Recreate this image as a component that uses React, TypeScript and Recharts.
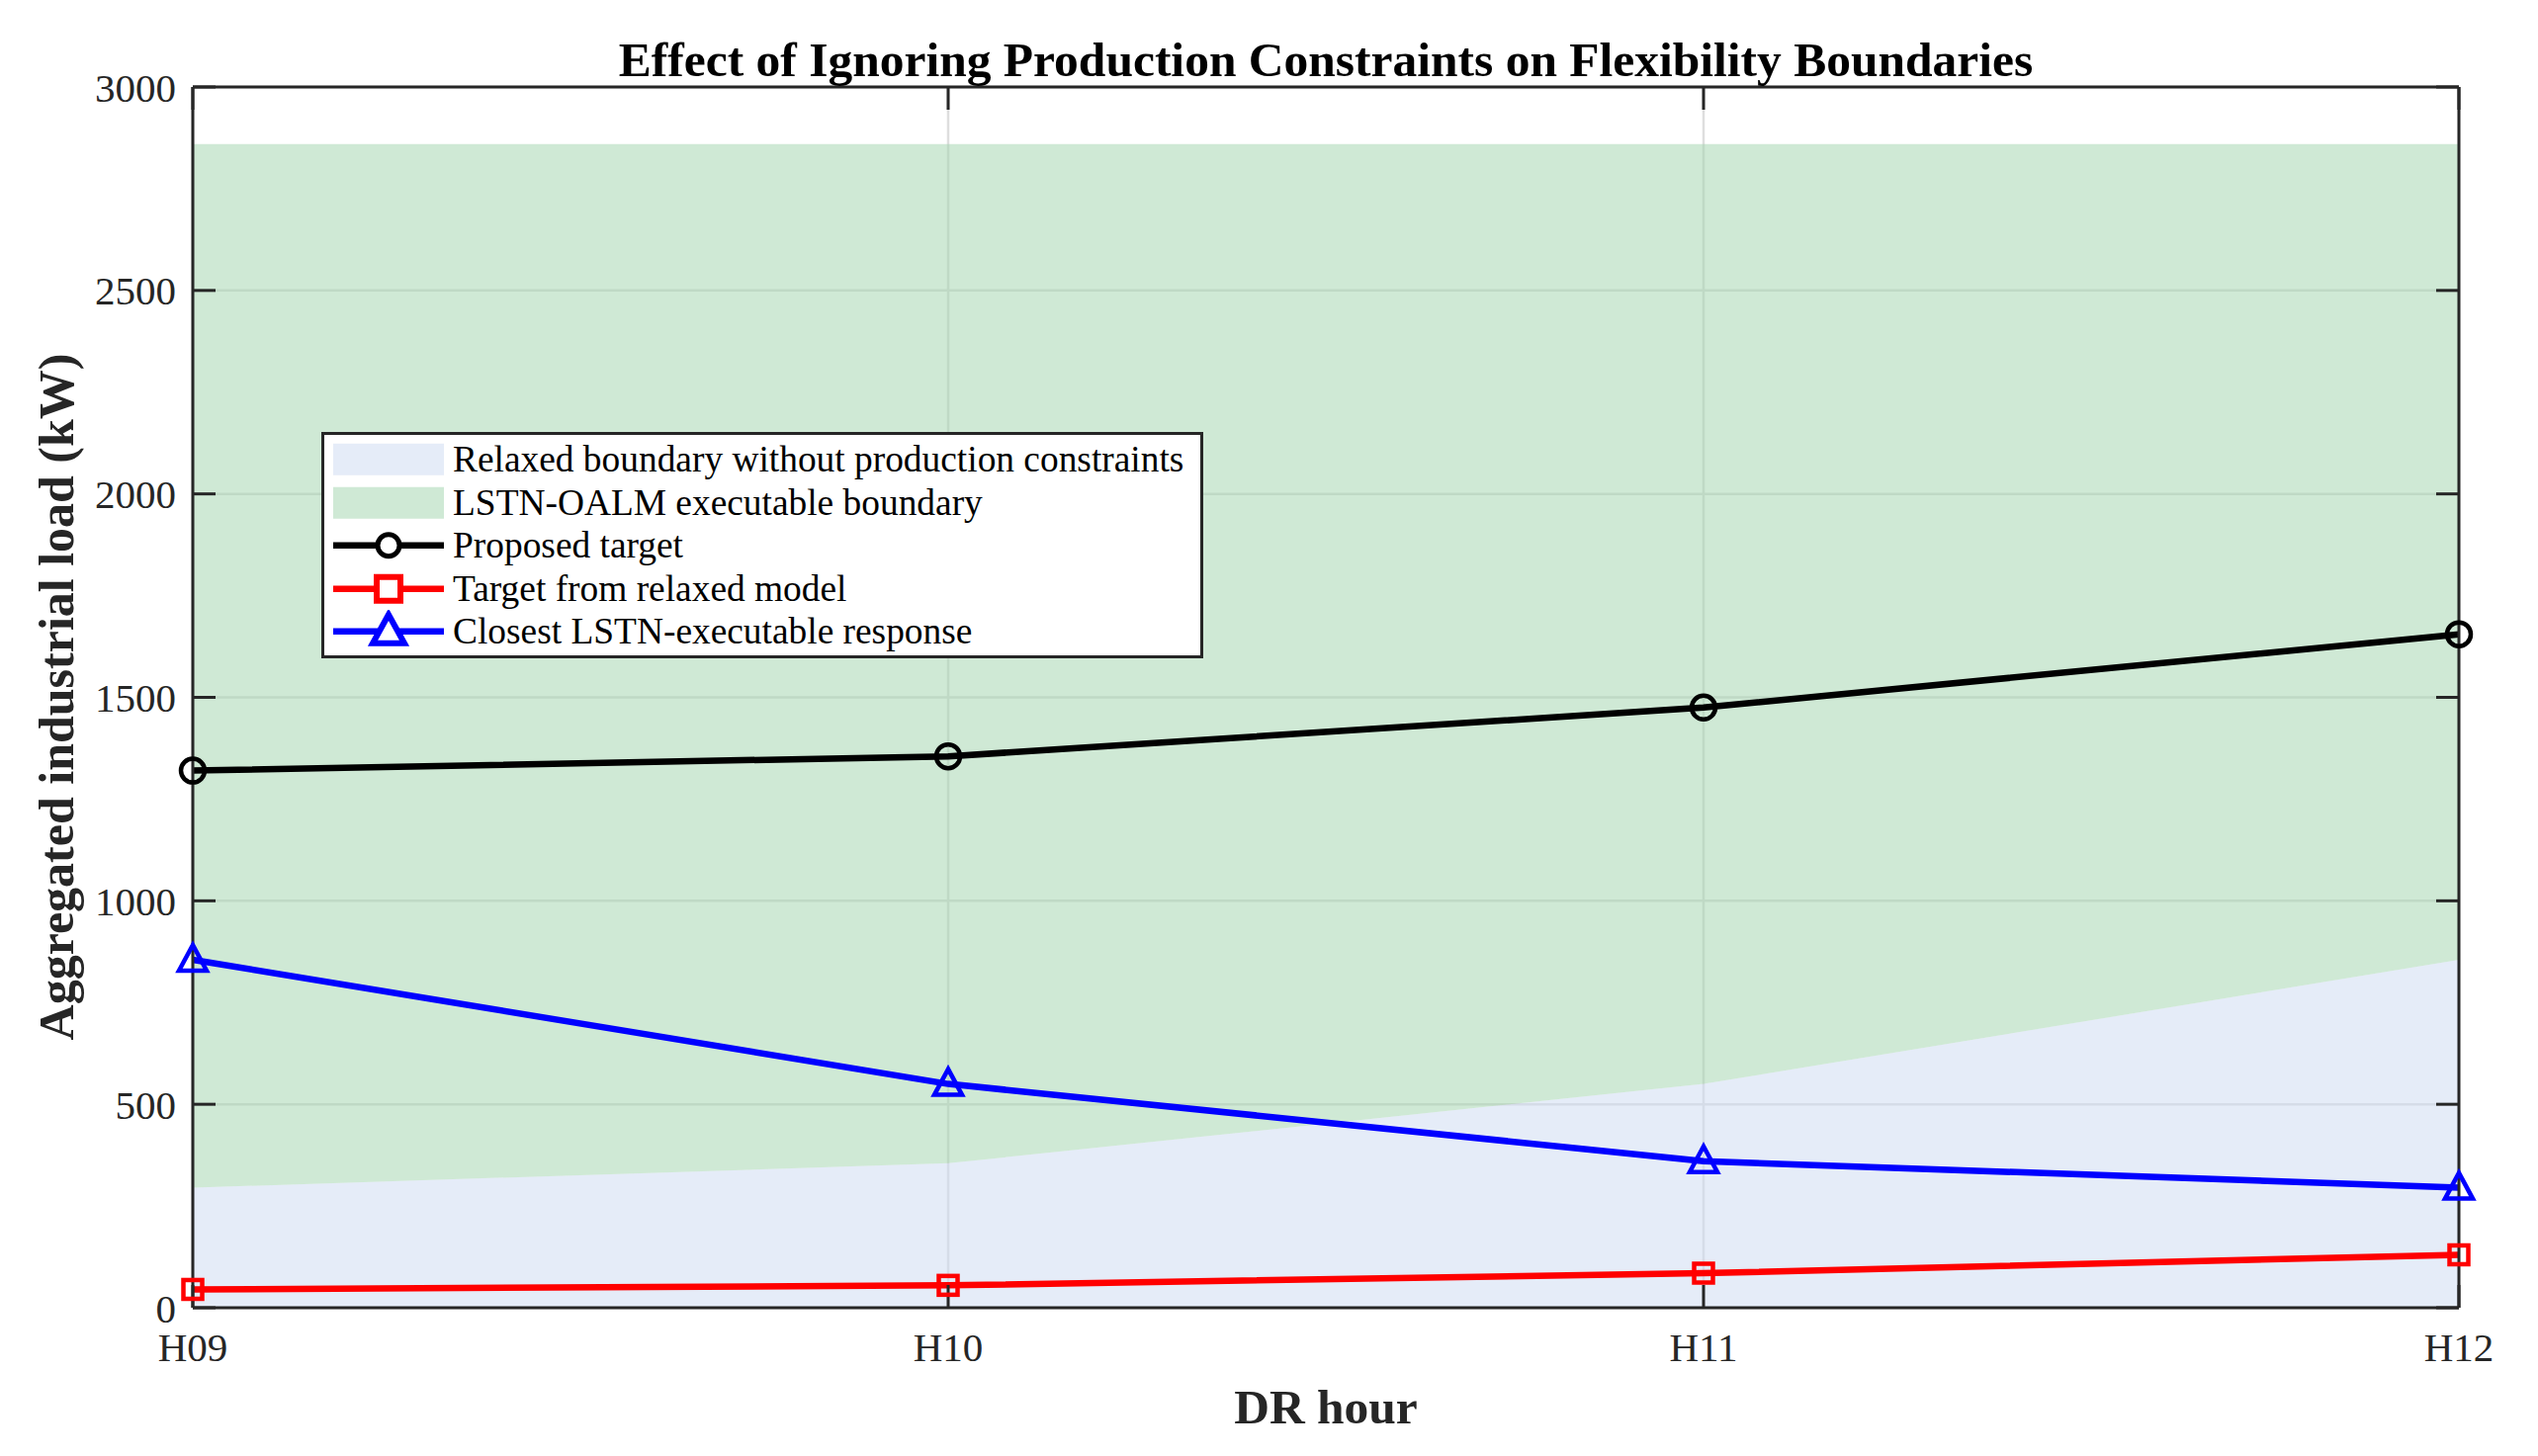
import React from 'react';
import { ComposedChart, Area, Line, XAxis, YAxis, CartesianGrid } from 'recharts';

const hours = ['H09', 'H10', 'H11', 'H12'];
const relaxedLower = [0, 0, 0, 0];
const relaxedUpper = [295, 355, 550, 855];
const executableLower = [295, 355, 550, 855];
const executableUpper = [2860, 2860, 2860, 2860];
const proposedTarget = [1320, 1355, 1475, 1655];
const relaxedModelTarget = [45, 55, 85, 130];
const closestResponse = [855, 550, 360, 295];
const yTicks = [0, 500, 1000, 1500, 2000, 2500, 3000];

const chartData = hours.map((h, i) => ({
  hour: h,
  relaxed: [relaxedLower[i], relaxedUpper[i]],
  executable: [executableLower[i], executableUpper[i]],
  proposed: proposedTarget[i],
  relaxedTarget: relaxedModelTarget[i],
  closest: closestResponse[i],
}));

const SERIF = "'Liberation Serif', 'Times New Roman', Times, serif";
const AX = '#262626';
const W = 2567;
const H = 1473;
const PLOT = { left: 195, right: 2487, top: 88, bottom: 1323 };
const M = { top: PLOT.top - 1, right: W - PLOT.right - 1, bottom: H - PLOT.bottom - 1, left: PLOT.left - 1 };
const TICK = -23;

const CircleDot = (p: any) => (
  <circle key={`c${p.index}`} cx={p.cx} cy={p.cy} r={12} fill="none" stroke="#000" strokeWidth={4.5} />
);
const SquareDot = (p: any) => (
  <rect key={`s${p.index}`} x={p.cx - 9.5} y={p.cy - 9.5} width={19} height={19} fill="none" stroke="#ff0000" strokeWidth={4.5} />
);
const TriDot = (p: any) => (
  <polygon
    key={`t${p.index}`}
    points={`${p.cx},${p.cy - 15} ${p.cx - 14},${p.cy + 11} ${p.cx + 14},${p.cy + 11}`}
    fill="none"
    stroke="#0000ff"
    strokeWidth={4.5}
  />
);

const legendRows = [
  { kind: 'patch', color: '#e5ecf8', label: 'Relaxed boundary without production constraints' },
  { kind: 'patch', color: '#cfe9d5', label: 'LSTN-OALM executable boundary' },
  { kind: 'circle', color: '#000000', label: 'Proposed target' },
  { kind: 'square', color: '#ff0000', label: 'Target from relaxed model' },
  { kind: 'tri', color: '#0000ff', label: 'Closest LSTN-executable response' },
];

const LegendSwatch = ({ kind, color }: { kind: string; color: string }) => {
  const w = 112;
  const h = 43.5;
  const cy = h / 2;
  const cx = w / 2;
  return (
    <svg width={w} height={h} style={{ display: 'block' }}>
      {kind === 'patch' && <rect x={0} y={cy - 16} width={w} height={32} fill={color} />}
      {kind !== 'patch' && <line x1={0} y1={cy} x2={w} y2={cy} stroke={color} strokeWidth={6.5} />}
      {kind === 'circle' && <circle cx={cx} cy={cy} r={11} fill="#fff" stroke={color} strokeWidth={5} />}
      {kind === 'square' && <rect x={cx - 12} y={cy - 12} width={24} height={24} fill="#fff" stroke={color} strokeWidth={6} />}
      {kind === 'tri' && (
        <polygon
          points={`${cx},${cy - 17} ${cx - 16},${cy + 12} ${cx + 16},${cy + 12}`}
          fill="#fff"
          stroke={color}
          strokeWidth={6}
        />
      )}
    </svg>
  );
};

const ChartLegend = () => (
  <div
    style={{
      position: 'absolute',
      left: 325,
      top: 437,
      width: 892,
      height: 229,
      boxSizing: 'border-box',
      border: `3px solid ${AX}`,
      background: '#fff',
      padding: '3px 0 0 9px',
      fontFamily: SERIF,
      fontSize: 37.4,
      color: '#000',
    }}
  >
    {legendRows.map((r) => (
      <div key={r.label} style={{ display: 'flex', alignItems: 'center', height: 43.5 }}>
        <LegendSwatch kind={r.kind} color={r.color} />
        <span style={{ marginLeft: 9, whiteSpace: 'nowrap', lineHeight: 1 }}>{r.label}</span>
      </div>
    ))}
  </div>
);

export default function App() {
  const tickStyle = { fill: AX, fontSize: 41, fontFamily: SERIF };
  return (
    <div style={{ position: 'absolute', left: 0, top: 0, width: W, height: H, background: '#fff' }}>
      <ComposedChart width={W} height={H} data={chartData} margin={M}>
        <CartesianGrid xAxisId="b" yAxisId="l" stroke="#dedede" strokeWidth={2.5} vertical horizontal />
        <XAxis
          dataKey="hour"
          xAxisId="b"
          scale="point"
          padding={{ left: 0, right: 0 }}
          height={1}
          interval={0}
          tickSize={TICK}
          tickMargin={48}
          tick={tickStyle}
          axisLine={{ stroke: AX, strokeWidth: 3 }}
          tickLine={{ stroke: AX, strokeWidth: 3 }}
        />
        <XAxis
          dataKey="hour"
          xAxisId="t"
          orientation="top"
          scale="point"
          padding={{ left: 0, right: 0 }}
          height={1}
          interval={0}
          tickSize={TICK}
          tickFormatter={() => ''}
          axisLine={{ stroke: AX, strokeWidth: 3 }}
          tickLine={{ stroke: AX, strokeWidth: 3 }}
        />
        <YAxis
          yAxisId="l"
          type="number"
          domain={[0, 3000]}
          ticks={yTicks}
          interval={0}
          width={1}
          tickSize={TICK}
          tickMargin={40}
          tick={tickStyle}
          axisLine={{ stroke: AX, strokeWidth: 3 }}
          tickLine={{ stroke: AX, strokeWidth: 3 }}
        />
        <YAxis
          yAxisId="r"
          orientation="right"
          type="number"
          domain={[0, 3000]}
          ticks={yTicks}
          interval={0}
          width={1}
          tickSize={TICK}
          tickFormatter={() => ''}
          axisLine={{ stroke: AX, strokeWidth: 3 }}
          tickLine={{ stroke: AX, strokeWidth: 3 }}
        />
        <Area
          xAxisId="b"
          yAxisId="l"
          dataKey="relaxed"
          type="linear"
          stroke="none"
          fill="#cbd9f1"
          fillOpacity={0.5}
          isAnimationActive={false}
          activeDot={false}
        />
        <Area
          xAxisId="b"
          yAxisId="l"
          dataKey="executable"
          type="linear"
          stroke="none"
          fill="#9fd3ab"
          fillOpacity={0.5}
          isAnimationActive={false}
          activeDot={false}
        />
        <Line
          xAxisId="t"
          yAxisId="r"
          dataKey="proposed"
          type="linear"
          stroke="#000000"
          strokeWidth={6.5}
          dot={CircleDot}
          activeDot={false}
          isAnimationActive={false}
        />
        <Line
          xAxisId="b"
          yAxisId="l"
          dataKey="relaxedTarget"
          type="linear"
          stroke="#ff0000"
          strokeWidth={6.5}
          dot={SquareDot}
          activeDot={false}
          isAnimationActive={false}
        />
        <Line
          xAxisId="b"
          yAxisId="l"
          dataKey="closest"
          type="linear"
          stroke="#0000ff"
          strokeWidth={6.5}
          dot={TriDot}
          activeDot={false}
          isAnimationActive={false}
        />
      </ComposedChart>
      <div
        style={{
          position: 'absolute',
          left: PLOT.left,
          width: PLOT.right - PLOT.left,
          top: 36,
          textAlign: 'center',
          fontFamily: SERIF,
          fontWeight: 'bold',
          fontSize: 49.5,
          lineHeight: 1,
          color: '#000',
          whiteSpace: 'nowrap',
        }}
      >
        Effect of Ignoring Production Constraints on Flexibility Boundaries
      </div>
      <div
        style={{
          position: 'absolute',
          left: PLOT.left,
          width: PLOT.right - PLOT.left,
          top: 1399,
          textAlign: 'center',
          fontFamily: SERIF,
          fontWeight: 'bold',
          fontSize: 49.5,
          lineHeight: 1,
          color: AX,
          whiteSpace: 'nowrap',
        }}
      >
        DR hour
      </div>
      <div
        style={{
          position: 'absolute',
          left: 57,
          top: 705,
          transform: 'translate(-50%, -50%) rotate(-90deg)',
          fontFamily: SERIF,
          fontWeight: 'bold',
          fontSize: 50,
          lineHeight: 1,
          color: AX,
          whiteSpace: 'nowrap',
        }}
      >
        Aggregated industrial load (kW)
      </div>
      <ChartLegend />
    </div>
  );
}
